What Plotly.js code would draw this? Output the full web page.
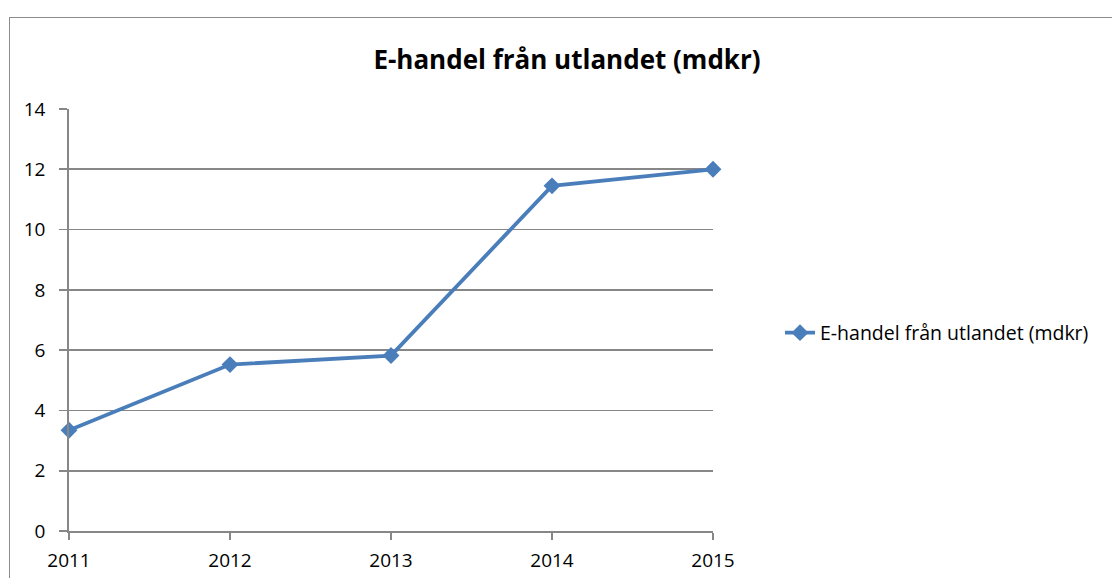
<!DOCTYPE html>
<html>
<head>
<meta charset="utf-8">
<script src="https://cdn.plot.ly/plotly-3.0.1.min.js"></script>
<style>
  html, body { margin: 0; padding: 0; background: #fff; }
  #chart { width: 1112px; height: 578px; }
  #frame {
    position: absolute; left: 9px; top: 17px; width: 1110px; height: 570px;
    border: 1.5px solid #8c8c8c; pointer-events: none; box-sizing: border-box;
  }
</style>
</head>
<body>
<div id="chart"></div>
<div id="frame"></div>
<script>
const years = [2011, 2012, 2013, 2014, 2015];
const values = [3.34, 5.52, 5.82, 11.45, 12.0];
const seriesName = "E-handel från utlandet (mdkr)";
const yTicks = [0, 2, 4, 6, 8, 10, 12, 14];

const lineColor = "#4a7ebb";
const axisColor = "#878787";
const fontFamily = "'Open Sans', 'Noto Sans', sans-serif";

Plotly.newPlot("chart", [
  {
    x: years,
    y: values,
    type: "scatter",
    mode: "lines+markers",
    name: seriesName,
    line: { color: lineColor, width: 3.8 },
    marker: { symbol: "diamond", size: 13, color: lineColor },
    cliponaxis: false,
  },
], {
  width: 1112,
  height: 578,
  paper_bgcolor: "#ffffff",
  plot_bgcolor: "#ffffff",
  margin: { l: 69, r: 399, t: 109, b: 47 },
  font: { family: fontFamily, size: 20, color: "#000" },
  title: {
    text: "<b>E-handel från utlandet (mdkr)</b>",
    font: { size: 26, family: fontFamily, color: "#000" },
    x: 567 / 1112,
    xanchor: "center",
    y: 1 - 60 / 578,
    yanchor: "middle",
  },
  xaxis: {
    range: [2011, 2015],
    tickvals: years,
    ticktext: years.map(String),
    showgrid: false,
    zeroline: false,
    showline: true,
    linecolor: axisColor,
    linewidth: 1.8,
    ticks: "outside",
    ticklen: 7,
    tickcolor: axisColor,
    tickwidth: 1.8,
    tickfont: { size: 19 },
    ticklabelstandoff: 4,
    fixedrange: true,
  },
  yaxis: {
    range: [0, 14],
    tickvals: yTicks,
    showgrid: true,
    gridcolor: axisColor,
    gridwidth: 1.8,
    zeroline: false,
    showline: true,
    linecolor: axisColor,
    linewidth: 1.8,
    ticks: "outside",
    ticklen: 8,
    tickcolor: axisColor,
    tickwidth: 1.8,
    tickfont: { size: 19 },
    ticklabelstandoff: 10,
    fixedrange: true,
  },
  showlegend: true,
  legend: {
    x: (780 - 69) / 644,
    xanchor: "left",
    y: (531 - 333) / 422,
    yanchor: "middle",
    font: { size: 19.5 },
    bgcolor: "rgba(0,0,0,0)",
  },
}, { displayModeBar: false, staticPlot: true });
</script>
</body>
</html>
